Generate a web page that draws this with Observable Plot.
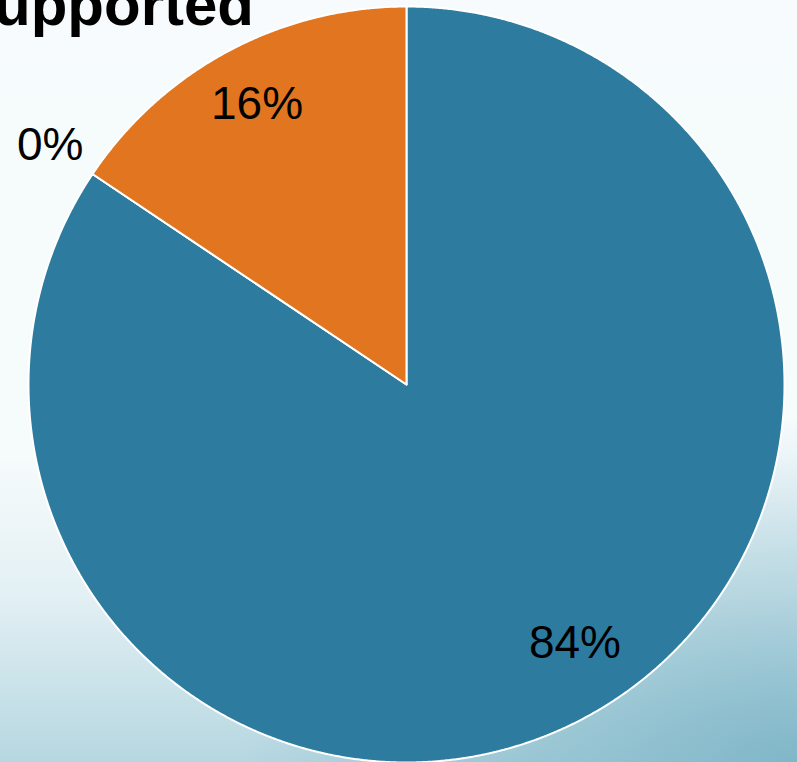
<!DOCTYPE html>
<html>
<head>
<meta charset="utf-8">
<script src="https://cdn.jsdelivr.net/npm/d3@7"></script>
<script src="https://cdn.jsdelivr.net/npm/@observablehq/plot@0.6"></script>
<style>
  html, body { margin: 0; padding: 0; }
  body {
    width: 797px; height: 762px; overflow: hidden; position: relative;
    background:
      radial-gradient(ellipse 70% 45% at 100% 100%, rgba(110,172,192,0.75), rgba(110,172,192,0) 100%),
      linear-gradient(to bottom, #f7fbfd 0%, #f6fbfc 60%, #e3f0f4 78%, #c6e0e8 92%, #b6d7e1 100%);
    font-family: "Liberation Sans", Arial, sans-serif;
  }
  #title {
    position: absolute; right: 543px; top: -25px;
    font-size: 60px; font-weight: bold; line-height: 60px; white-space: nowrap; color: #000;
  }
  #chart { position: absolute; left: 0; top: 0; }
</style>
</head>
<body>
<div id="title">Supported</div>
<div id="chart"></div>
<script>
// Data
const categories = ["Supported", "Not applicable", "Not supported"];
const values = [84.4, 0, 15.6];
const colors = ["#2d7ca0", "#a5a5a5", "#e27620"];

const R = 378;
const pie = d3.pie().sort(null).value(d => d.value).startAngle(0).endAngle(2 * Math.PI);
const rows = categories.map((c, i) => ({category: c, value: values[i], color: colors[i]}));
const arcs = pie(rows);

// polygon outline of each slice (center -> arc -> center)
function slicePoints(a) {
  const pts = [{category: a.data.category, x: 0, y: 0}];
  const span = a.endAngle - a.startAngle;
  const n = Math.max(1, Math.ceil(span / (Math.PI / 720)));
  for (let k = 0; k <= n; k++) {
    const t = a.startAngle + span * k / n;
    pts.push({category: a.data.category, x: R * Math.sin(t), y: R * Math.cos(t)});
  }
  pts.push({category: a.data.category, x: 0, y: 0});
  return pts;
}

const labels = arcs.map(a => {
  const mid = (a.startAngle + a.endAngle) / 2;
  const r = a.data.value === 0 ? R * 1.135 : R * 0.84;
  return {label: Math.round(a.data.value) + "%", value: a.data.value, x: r * Math.sin(mid), y: r * Math.cos(mid)};
});

const marks = arcs.map(a => Plot.line(slicePoints(a), {
  x: "x", y: "y", fill: a.data.color, stroke: "white", strokeWidth: 2, strokeLinejoin: "round"
}));
const textStyle = {x: "x", y: "y", text: "label", fontSize: 46, fill: "black",
  fontFamily: "Liberation Sans, Arial, sans-serif"};
marks.push(Plot.text(labels.filter(d => d.value <= 50), textStyle));
// best-fit placement of the large slice's label (nudged like the original)
marks.push(Plot.text(labels.filter(d => d.value > 50), {...textStyle, dx: 19, dy: -21}));

const chart = Plot.plot({
  width: 797,
  height: 762,
  margin: 0,
  x: {domain: [-406, 391], axis: null},
  y: {domain: [-378, 384], axis: null},
  style: {background: "transparent", overflow: "visible"},
  marks
});
document.getElementById("chart").appendChild(chart);
</script>
</body>
</html>
